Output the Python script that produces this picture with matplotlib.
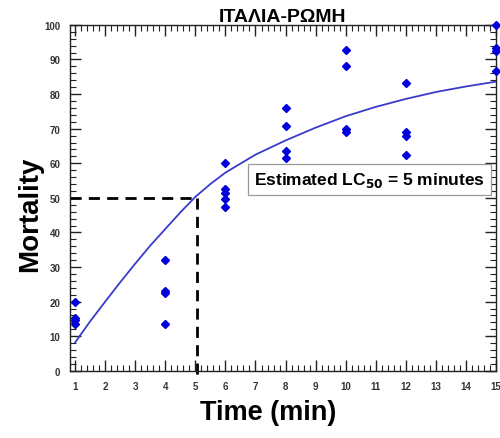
import matplotlib.pyplot as plt
import numpy as np
from matplotlib.ticker import MultipleLocator

plt.rcParams['font.family'] = ['Liberation Sans', 'DejaVu Sans']

# observed mortality (%) at each exposure time
t_obs = [1, 1, 1, 1,
         4, 4, 4, 4,
         6, 6, 6, 6, 6,
         8, 8, 8, 8,
         10, 10, 10, 10,
         12, 12, 12, 12,
         15, 15, 15, 15]
mort_obs = [20, 15.3, 14.6, 13.6,
            32, 23, 22.6, 13.6,
            60, 52.5, 51.5, 49.8, 47.5,
            76, 70.8, 63.6, 61.6,
            92.8, 88, 70, 69,
            83.3, 69, 68, 62.5,
            100, 93.3, 92.5, 86.8]

# fitted curve
t_fit = [1, 1.5, 2, 2.5, 3, 3.5, 4, 4.5, 5, 5.5, 6, 7, 8, 9, 10, 11, 12, 13, 14, 15]
mort_fit = [8.2, 14.3, 20, 25.6, 31, 36.2, 41.0, 45.8, 50.3, 54.0, 57.3, 62.5, 66.6, 70.3,
            73.6, 76.3, 78.6, 80.6, 82.2, 83.6]

lc50_t = 5.05
lc50_m = 50

fig = plt.figure(figsize=(5, 4.39), dpi=100)
ax = fig.add_axes([0.14, 0.153, 0.852, 0.788])

ax.plot(t_fit, mort_fit, color='#3a3acc', lw=1.3, zorder=3)
ax.plot(t_obs, mort_obs, 'D', color='#0000dd', ms=3.7, mec='#0000dd', zorder=4, clip_on=False)

ax.plot([0.83, lc50_t], [lc50_m, lc50_m], color='black', lw=2, dashes=(4, 2.6), zorder=2)
ax.plot([lc50_t, lc50_t], [lc50_m, -2.5], color='black', lw=2, dashes=(4, 2.6), zorder=2, clip_on=False)

ax.text(10.8, 55.2, 'Estimated LC$_{\\mathbf{50}}$ = 5 minutes', fontsize=12.5, fontweight='bold',
        ha='center', va='center', zorder=5,
        bbox=dict(boxstyle='square,pad=0.35', fc='white', ec='#999999', lw=0.9))

ax.set_xlim(0.83, 15)
ax.set_ylim(0, 100)
ax.xaxis.set_major_locator(MultipleLocator(1))
ax.xaxis.set_minor_locator(MultipleLocator(0.2))
ax.yaxis.set_major_locator(MultipleLocator(10))
ax.yaxis.set_minor_locator(MultipleLocator(2))
ax.tick_params(which='both', direction='in', top=True, right=True, colors='#222222')
ax.tick_params(which='major', length=8, width=1, labelsize=7, pad=7)
ax.tick_params(which='minor', length=4, width=0.8)
for lab in ax.get_xticklabels() + ax.get_yticklabels():
    lab.set_fontweight('bold')
    lab.set_color('#333333')
for sp in ax.spines.values():
    sp.set_color('#222222')
    sp.set_linewidth(1)

ax.set_title('ΙΤΑΛΙΑ-ΡΩΜΗ', fontsize=14, fontweight='bold', pad=0)
ax.set_xlabel('Time (min)', fontsize=19.5, fontweight='bold')
ax.set_ylabel('Mortality', fontsize=20, fontweight='bold')
ax.xaxis.set_label_coords(0.465, -0.08, transform=ax.transAxes)
ax.yaxis.set_label_coords(-0.094, 0.455)
ax.xaxis.label.set_va('top')
ax.yaxis.label.set_va('center')

fig.savefig('out.png', dpi=100)
